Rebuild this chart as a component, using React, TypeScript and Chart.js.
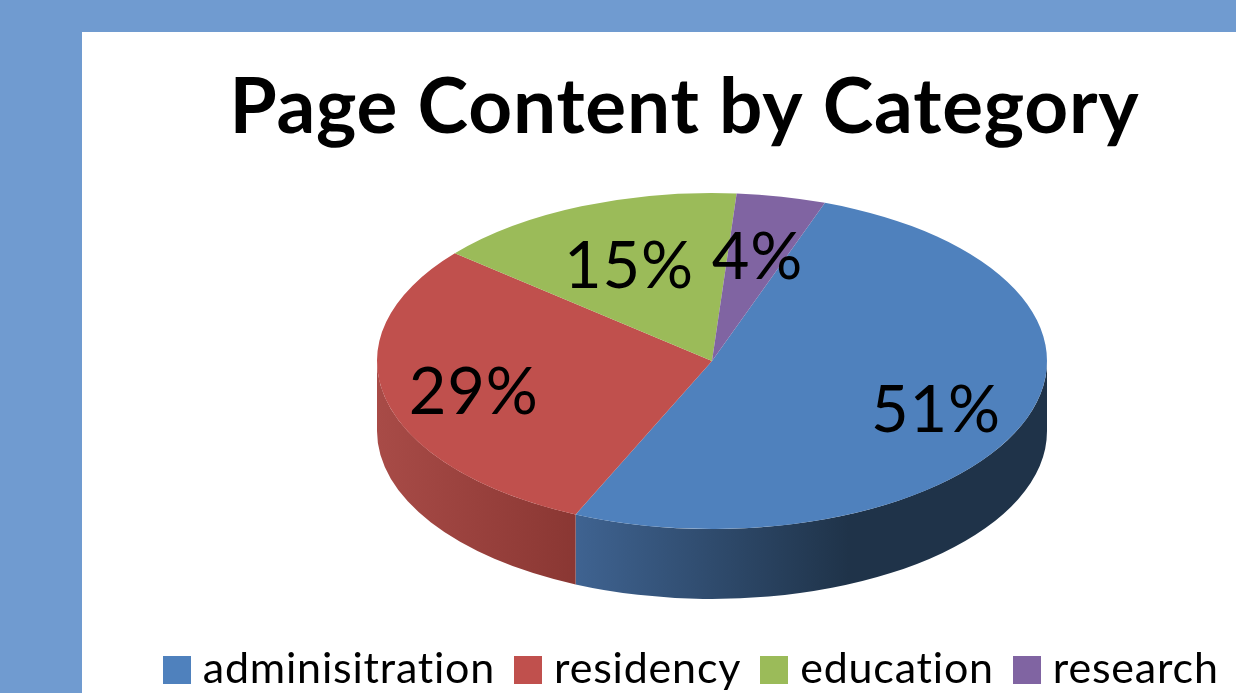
import React, { useEffect, useRef } from "react";
import { Chart, registerables } from "chart.js";

Chart.register(...registerables);

const categories = ["adminisitration", "residency", "education", "research"];
const shares = [51.2, 29.4, 15.1, 4.3];
const topColors = ["#4f81bd", "#c0504d", "#9bbb59", "#8064a2"];
const wallStops: Array<Array<[number, string]>> = [
  [[0, "#3f6391"], [0.58, "#1f3349"], [1, "#1f3349"]],
  [[0, "#a84b47"], [1, "#8a3733"]],
  [[0, "#7a9446"], [1, "#7a9446"]],
  [[0, "#654f80"], [1, "#654f80"]],
];
const labelReach = [0.72, 0.73, 0.635, 0.655];

const titleText = "Page Content by Category";
const FONT = "Lato, Carlito, sans-serif";
const SQUASH = 0.5015;
const DEPTH = 70;
const CANVAS_LEFT = 123;
const CANVAS_WIDTH = 1123;
const PIE_CX = 712 - CANVAS_LEFT;
const PIE_CY = 361;
const LEGEND_SHIFT = 11;
const SWATCH = 28;
const TRACKING = "0.8px";

function swatch(color: string) {
  const c = document.createElement("canvas");
  c.width = SWATCH;
  c.height = SWATCH;
  const g = c.getContext("2d") as CanvasRenderingContext2D;
  g.fillStyle = color;
  g.fillRect(0, 0, SWATCH, SWATCH);
  return c;
}

const pie3d = {
  id: "pie3d",
  beforeLayout(chart: any) {
    chart.ctx.letterSpacing = TRACKING;
  },
  afterLayout(chart: any) {
    const a = chart.chartArea;
    const dx = PIE_CX - (a.left + a.right) / 2;
    const dy = PIE_CY - (a.top + a.bottom) / 2;
    a.left += dx;
    a.right += dx;
    a.top += dy;
    a.bottom += dy;
    chart.legend.left += LEGEND_SHIFT;
    chart.legend.right += LEGEND_SHIFT;
  },
  beforeDraw(chart: any) {
    chart.ctx.letterSpacing = TRACKING;
  },
  beforeDatasetsDraw(chart: any) {
    const ctx = chart.ctx;
    const arcs = chart.getDatasetMeta(0).data;
    ctx.save();
    arcs.forEach((arc: any, i: number) => {
      const { x, y, outerRadius, startAngle, endAngle } = arc.getProps(
        ["x", "y", "outerRadius", "startAngle", "endAngle"],
        true
      );
      const rx = outerRadius;
      const ry = outerRadius * SQUASH;
      for (const base of [0, Math.PI * 2]) {
        const a0 = Math.max(startAngle, base);
        const a1 = Math.min(endAngle, base + Math.PI);
        if (a1 <= a0) continue;
        const xA = x + rx * Math.cos(a0);
        const xB = x + rx * Math.cos(a1);
        const grad = ctx.createLinearGradient(Math.min(xA, xB), 0, Math.max(xA, xB), 0);
        wallStops[i].forEach(([p, c]) => grad.addColorStop(p, c));
        ctx.beginPath();
        ctx.ellipse(x, y, rx, ry, 0, a0, a1);
        ctx.ellipse(x, y + DEPTH, rx, ry, 0, a1, a0, true);
        ctx.closePath();
        ctx.fillStyle = grad;
        ctx.fill();
      }
    });
    ctx.restore();
    ctx.save();
    const cy = arcs[0].y;
    ctx.translate(0, cy);
    ctx.scale(1, SQUASH);
    ctx.translate(0, -cy);
  },
  afterDatasetsDraw(chart: any) {
    const ctx = chart.ctx;
    ctx.restore();
    const arcs = chart.getDatasetMeta(0).data;
    ctx.save();
    ctx.fillStyle = "#000";
    ctx.font = `65px ${FONT}`;
    ctx.textAlign = "center";
    ctx.textBaseline = "middle";
    arcs.forEach((arc: any, i: number) => {
      const { x, y, outerRadius, startAngle, endAngle } = arc.getProps(
        ["x", "y", "outerRadius", "startAngle", "endAngle"],
        true
      );
      const mid = (startAngle + endAngle) / 2;
      const r = outerRadius * labelReach[i];
      ctx.fillText(
        `${Math.round(shares[i])}%`,
        x + r * Math.cos(mid),
        y + r * SQUASH * Math.sin(mid) + 4.5
      );
    });
    ctx.restore();
  },
};

export default function App() {
  const ref = useRef<HTMLCanvasElement>(null);
  useEffect(() => {
    const canvas = ref.current as HTMLCanvasElement;
    const chart = new Chart(canvas, {
      type: "pie",
      data: {
        labels: categories,
        datasets: [
          {
            data: shares,
            backgroundColor: topColors,
            borderWidth: 0,
            radius: 335,
            clip: false,
          } as any,
        ],
      },
      options: {
        responsive: false,
        animation: false,
        rotation: 19.7,
        layout: { padding: 0 },
        plugins: {
          title: {
            display: true,
            text: titleText,
            color: "#000",
            font: { family: FONT, size: 76.5, weight: "bold" },
            padding: { top: 62, bottom: 20 },
          },
          legend: {
            position: "bottom",
            labels: {
              color: "#000",
              usePointStyle: true,
              pointStyleWidth: 9,
              boxHeight: SWATCH,
              padding: 28.5,
              font: { family: FONT, size: 43 },
              generateLabels: (c: any) =>
                (Chart.overrides as any).doughnut.plugins.legend.labels
                  .generateLabels(c)
                  .map((item: any, i: number) => ({
                    ...item,
                    pointStyle: swatch(topColors[i]),
                  })),
            },
          },
          tooltip: { enabled: false },
        },
      },
      plugins: [pie3d],
    } as any);
    return () => chart.destroy();
  }, []);
  return (
    <div style={{ position: "fixed", inset: 0, background: "#709bd0", overflow: "hidden" }}>
      <div style={{ position: "absolute", left: 82, top: 32, right: 0, bottom: 0, background: "#fff" }} />
      <canvas
        ref={ref}
        width={CANVAS_WIDTH}
        height={701}
        style={{ position: "absolute", left: CANVAS_LEFT, top: 0, display: "block" }}
      />
    </div>
  );
}
